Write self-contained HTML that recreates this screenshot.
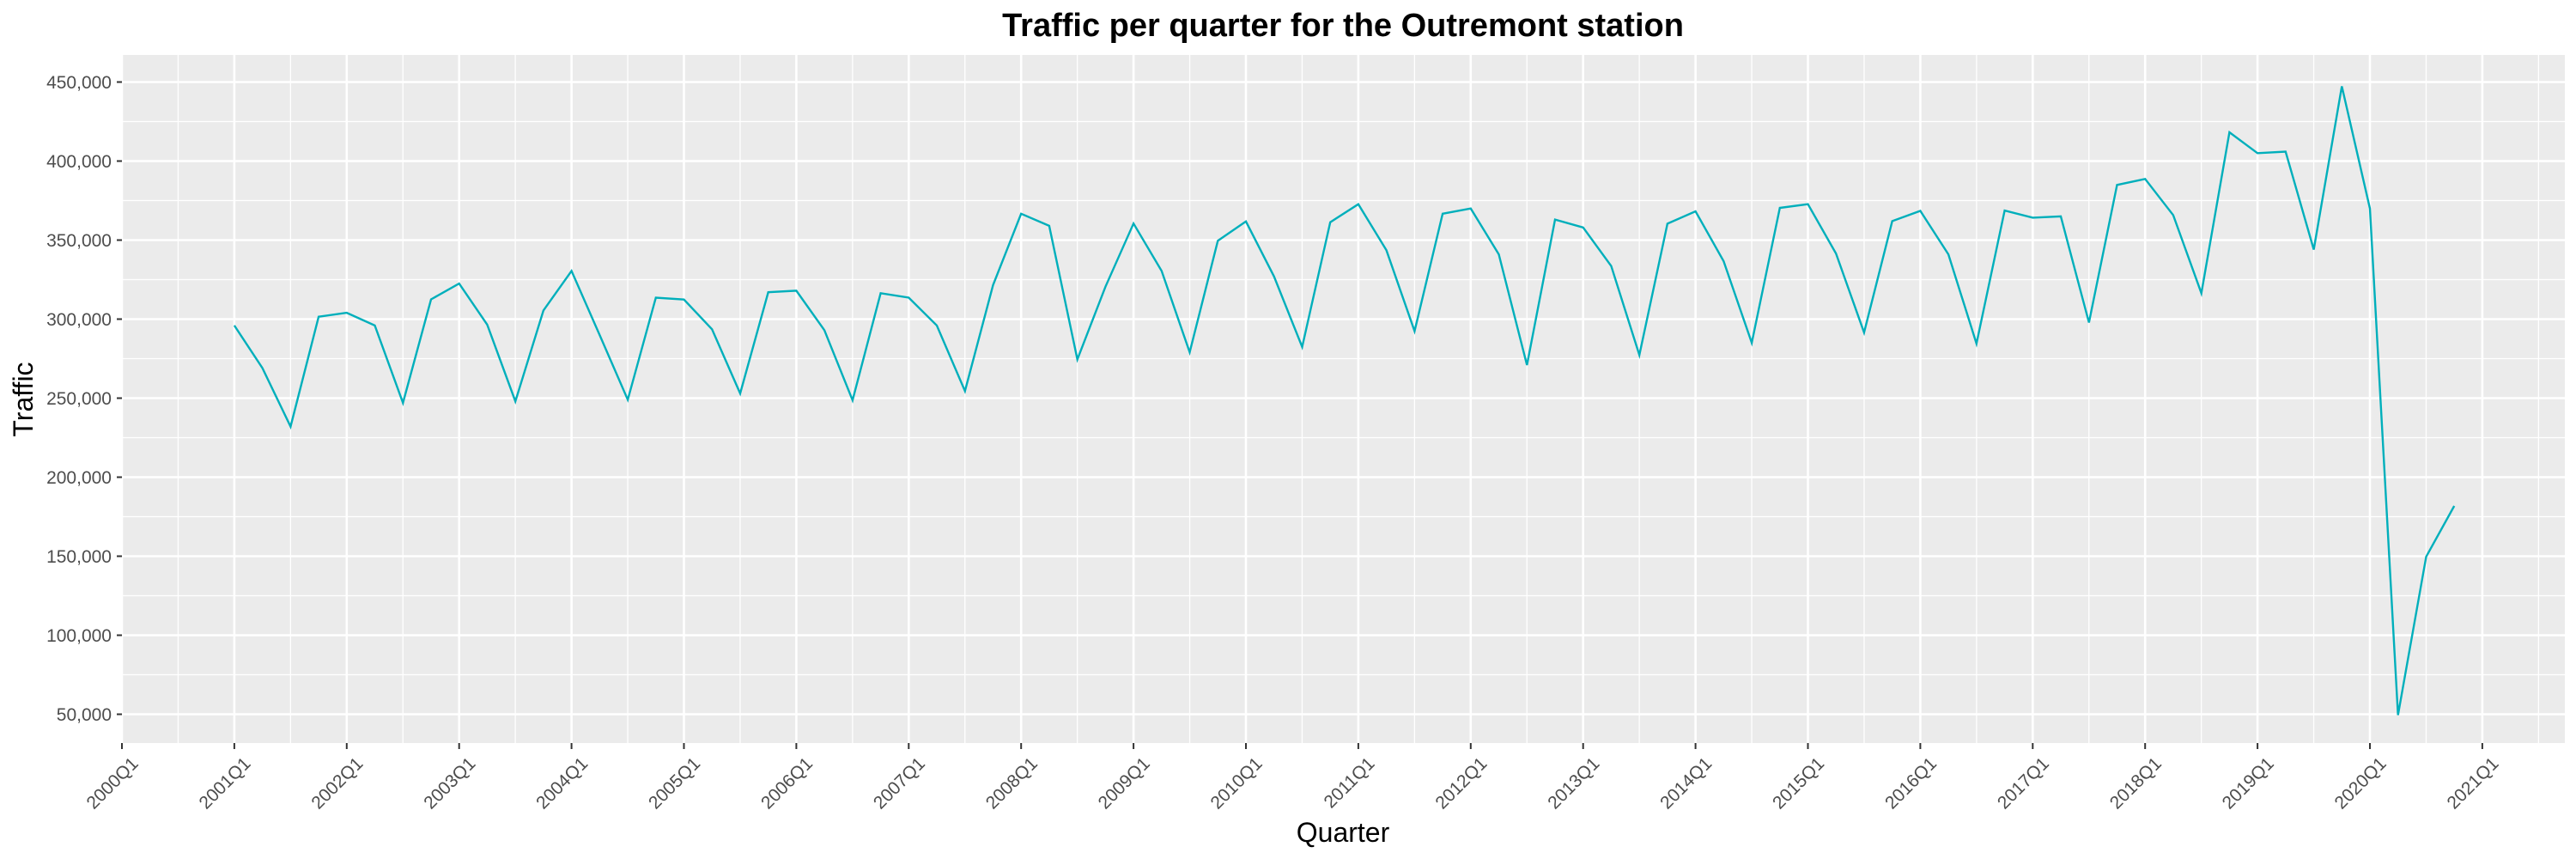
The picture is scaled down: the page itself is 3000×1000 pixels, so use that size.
<!DOCTYPE html>
<html><head><meta charset="utf-8"><style>
html,body{margin:0;padding:0;background:#fff;}
svg{display:block;font-family:"Liberation Sans",Arial,sans-serif;}
</style></head><body>
<svg id="chart" width="3000" height="1000" viewBox="0 0 3000 1000" xmlns="http://www.w3.org/2000/svg">
<rect x="0" y="0" width="3000" height="1000" fill="#fff"/>
<rect x="142" y="64" width="2845" height="801" fill="#ebebeb"/>
<g id="grid"></g>
<g id="axes"></g>
<g id="series"></g>
<text x="1564" y="42" text-anchor="middle" font-size="38" font-weight="bold" fill="#000">Traffic per quarter for the Outremont station</text>
<text x="1564" y="980" text-anchor="middle" font-size="32" fill="#000">Quarter</text>
<text transform="translate(38,465) rotate(-90)" text-anchor="middle" font-size="32" fill="#000">Traffic</text>
</svg>
<script>
const yTicks = [50000,100000,150000,200000,250000,300000,350000,400000,450000];
const yTickLabels = ["50,000","100,000","150,000","200,000","250,000","300,000","350,000","400,000","450,000"];
const xTickLabels = ["2000Q1","2001Q1","2002Q1","2003Q1","2004Q1","2005Q1","2006Q1","2007Q1","2008Q1","2009Q1","2010Q1","2011Q1","2012Q1","2013Q1","2014Q1","2015Q1","2016Q1","2017Q1","2018Q1","2019Q1","2020Q1","2021Q1"];
const quarters = [];
for (let y = 2001; y <= 2020; y++) for (let q = 1; q <= 4; q++) quarters.push(y + "Q" + q);
const traffic = [
296000,269000,232000,301500, 304000,296000,247000,312500, 322500,296500,248000,305500,
330500,290000,249000,313600, 312400,293600,253000,317000, 318000,293000,248700,316400,
313600,296000,254500,321500, 366700,359000,274500,320500, 360500,330500,279000,349600,
361800,327000,282400,361300, 372700,343600,292400,366700, 370000,341000,270900,363000,
358000,333600,277300,360400, 368200,336700,285000,370400, 372700,341500,291500,362000,
368500,341000,284500,368700, 364200,365000,297800,384900, 388700,365800,316400,418200,
405000,406000,344000,447300, 370000,49500,149700,181800];

const NS = "http://www.w3.org/2000/svg";
const PL = 142, PR = 2987, PT = 64, PB = 865;
const X0 = 142, YEAR = 130.9;
function xIndex(i){ return X0 + i * YEAR / 4; } // i = quarters since 2000Q1
function xq(label){ const y = parseInt(label.slice(0,4)), q = parseInt(label.slice(5)); return xIndex((y-2000)*4 + (q-1)); }
function yv(v){ return 95.5 + (450000 - v) / 50000 * 92; }
function mk(tag, attrs, parent){ const e = document.createElementNS(NS, tag); for (const k in attrs) e.setAttribute(k, attrs[k]); parent.appendChild(e); return e; }

const grid = document.getElementById("grid");
const axes = document.getElementById("axes");
// minor horizontal
for (let v = 25000; v <= 475000; v += 50000) {
  const y = yv(v); if (y < PT || y > PB) continue;
  const l = mk("line", {x1:PL, x2:PR, y1:y, y2:y, stroke:"#fff", "stroke-width":1.3}, grid);
  
  
}
// minor vertical (Q3 each year)
for (let i = 2; i < 22*4; i += 4) {
  const x = xIndex(i); if (x > PR) continue;
  const l = mk("line", {x1:x, x2:x, y1:PT, y2:PB, stroke:"#fff", "stroke-width":1.3}, grid);
  
  
}
yTicks.forEach((v, k) => {
  const y = yv(v);
  const l = mk("line", {x1:PL, x2:PR, y1:y, y2:y, stroke:"#fff", "stroke-width":2.6}, grid);
  
  
  const t = mk("line", {x1:136, x2:PL, y1:y, y2:y, stroke:"#333", "stroke-width":2}, axes);
  
  
  const tx = mk("text", {x:130, y:y+7.5, "text-anchor":"end", "font-size":21, fill:"#4d4d4d"}, axes);
  
  
  tx.textContent = yTickLabels[k];
});
xTickLabels.forEach(lab => {
  const x = xq(lab);
  const l = mk("line", {x1:x, x2:x, y1:PT, y2:PB, stroke:"#fff", "stroke-width":2.6}, grid);
  
  
  const t = mk("line", {x1:x, x2:x, y1:PB, y2:PB+7, stroke:"#333", "stroke-width":2}, axes);
  
  
  const tx = mk("text", {transform:"translate(" + (x+9) + "," + (PB+14) + ") rotate(-45)", "text-anchor":"end", "font-size":21, fill:"#4d4d4d", dy:"0.75em"}, axes);
  
  
  tx.textContent = lab;
});
const pts = quarters.map((q, i) => xq(q).toFixed(1) + "," + yv(traffic[i]).toFixed(1)).join(" ");
const line = mk("polyline", {points:pts, fill:"none", stroke:"#00afbb", "stroke-width":2.4, "stroke-linejoin":"miter"}, document.getElementById("series"));


</script>
</body></html>
